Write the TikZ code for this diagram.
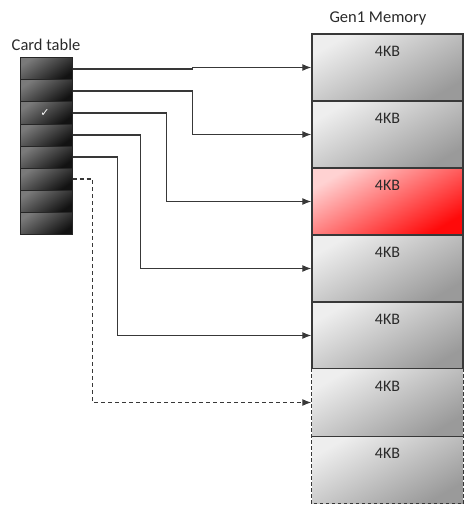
\documentclass[tikz,border=0pt]{standalone}
\usepackage{fontspec}
\setmainfont{Carlito}
\newfontfamily\symfont{DejaVu Sans}
\usepackage{xcolor}
\usepackage{tikz}
\usetikzlibrary{positioning,arrows.meta}
\definecolor{cardlight}{HTML}{7A7A7A}
\definecolor{carddark}{HTML}{121212}
\definecolor{memlight}{HTML}{EEEEEE}
\definecolor{memdark}{HTML}{9A9A9A}
\definecolor{hotlight}{HTML}{FFD2D2}
\definecolor{hotdark}{HTML}{FF0A0A}
\definecolor{edgegray}{HTML}{383838}
\definecolor{textgray}{HTML}{2A2A2A}

\begin{document}
\begin{tikzpicture}[x=1pt,y=-1pt,>={Latex[length=9pt,width=7pt]},
  card/.style={draw=black!85, line width=1pt, inner sep=0pt,
    minimum width=52pt, minimum height=22pt,
    top color=cardlight, bottom color=carddark, shading angle=35},
  block/.style={draw=edgegray, line width=1.4pt, inner sep=0pt,
    minimum width=151pt, minimum height=67pt,
    top color=memlight, bottom color=memdark, shading angle=30},
  hot/.style={block, top color=hotlight, bottom color=hotdark, shading angle=30},
  spare/.style={block, draw=none},
  kbtext/.style={text=textgray, font=\fontsize{16}{18}\selectfont},
  title/.style={text=textgray, font=\fontsize{16.5}{19}\selectfont},
  link/.style={->, draw=edgegray, line width=1.2pt},
  maybe/.style={link, dashed, dash pattern=on 4pt off 3pt}]
  \useasboundingbox (0,0) rectangle (468,508);

  % card table
  \node[title] (cardlabel) at (46,45) {Card table};
  \node[card] (c1) at (46,69) {};
  \node[card] (c2) at (46,91) {};
  \node[card] (c3) at (46,113) {};
  \node[card] (c4) at (46,135) {};
  \node[card] (c5) at (46,157) {};
  \node[card] (c6) at (46,179) {};
  \node[card] (c7) at (46,201) {};
  \node[card] (c8) at (46,223) {};
  \node[text=white, inner sep=0pt, font=\symfont\fontsize{11}{11}\selectfont] (tick) at (45,113) {✓};

  % gen1 memory
  \node[title] (memlabel) at (378,18) {Gen1 Memory};
  \node[block] (m1) at (387.5,67.5) {};
  \node[block] (m2) at (387.5,134.5) {};
  \node[hot]   (m3) at (387.5,201.5) {};
  \node[block] (m4) at (387.5,268.5) {};
  \node[block] (m5) at (387.5,335.5) {};
  \node[spare] (m6) at (387.5,402.5) {};
  \node[spare] (m7) at (387.5,469.5) {};
  \draw[edgegray, line width=1.4pt, dashed, dash pattern=on 3.5pt off 2.5pt]
    (m6.north west) -- (m7.south west) -- (m7.south east) -- (m6.north east);
  \draw[edgegray, line width=1.4pt] (m6.south west) -- (m6.south east);
  \draw[edgegray, line width=1.4pt] (m6.north west) -- (m6.north east);

  \node[kbtext] (k1) at ([yshift=-18pt]m1.north) {4KB};
  \node[kbtext] (k2) at ([yshift=-18pt]m2.north) {4KB};
  \node[kbtext] (k3) at ([yshift=-18pt]m3.north) {4KB};
  \node[kbtext] (k4) at ([yshift=-18pt]m4.north) {4KB};
  \node[kbtext] (k5) at ([yshift=-18pt]m5.north) {4KB};
  \node[kbtext] (k6) at ([yshift=-18pt]m6.north) {4KB};
  \node[kbtext] (k7) at ([yshift=-18pt]m7.north) {4KB};

  % card -> block pointers
  \draw[link] (c1.east) -- ++(120,0) |- (m1.west);
  \draw[link] (c2.east) -- ++(120,0) |- (m2.west);
  \draw[link] (c3.east) -- ++(94,0) |- (m3.west);
  \draw[link] (c4.east) -- ++(68,0) |- (m4.west);
  \draw[link] (c5.east) -- ++(45,0) |- (m5.west);
  \draw[maybe] (c6.east) -- ++(20,0) |- (m6.west);
\end{tikzpicture}
\end{document}
